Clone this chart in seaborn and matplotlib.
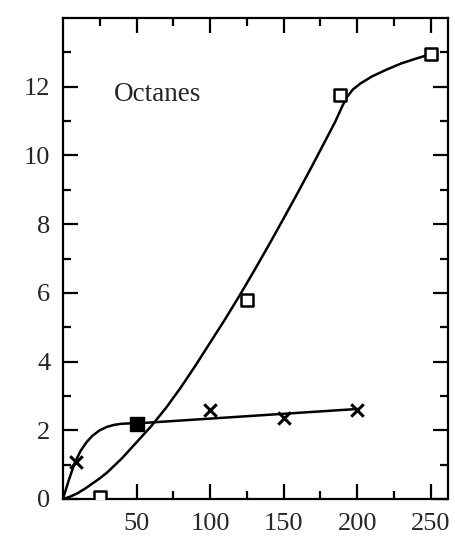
import matplotlib
matplotlib.use("Agg")
import matplotlib.pyplot as plt
import seaborn as sns
import pandas as pd
from matplotlib.ticker import FixedLocator

# ---- data ----
curve_a_x = [0, 5, 10, 15, 20, 25, 30, 40, 50, 60, 70, 80, 90, 100, 110, 120,
             130, 140, 150, 160, 170, 180, 185, 190, 193, 197, 202, 210, 220,
             230, 240, 250]
curve_a_y = [0, 0.07, 0.17, 0.30, 0.45, 0.60, 0.77, 1.18, 1.65, 2.12, 2.65,
             3.24, 3.88, 4.55, 5.22, 5.92, 6.65, 7.40, 8.17, 8.95, 9.75,
             10.57, 10.98, 11.45, 11.70, 11.92, 12.09, 12.30, 12.50, 12.68,
             12.82, 12.95]

curve_b_x = [0, 4, 8, 12, 16, 20, 25, 30, 35, 40, 45, 50, 200]
curve_b_y = [0, 0.55, 1.05, 1.40, 1.65, 1.84, 2.00, 2.10, 2.16, 2.19, 2.20,
             2.20, 2.62]

open_sq_x = [25, 125, 188, 250]
open_sq_y = [0.05, 5.8, 11.76, 12.95]

filled_sq_x = [50]
filled_sq_y = [2.18]

cross_x = [9, 100, 150, 200]
cross_y = [1.07, 2.6, 2.35, 2.6]

x_major = [50, 100, 150, 200, 250]
x_minor = [25, 75, 125, 175, 225]
y_major = [0, 2, 4, 6, 8, 10, 12]
y_minor = [1, 3, 5, 7, 9, 11, 13]
label_text = "Octanes"

# ---- style ----
sns.set_style("ticks")
plt.rcParams["font.family"] = ["Liberation Serif", "DejaVu Serif"]

fig = plt.figure(figsize=(4.56, 5.38), dpi=100)
ax = fig.add_axes([0.138, 0.0725, 0.844, 0.894])

df_a = pd.DataFrame({"x": curve_a_x, "y": curve_a_y})
df_b = pd.DataFrame({"x": curve_b_x, "y": curve_b_y})
sns.lineplot(data=df_a, x="x", y="y", sort=False, color="black", lw=1.8, ax=ax)
sns.lineplot(data=df_b, x="x", y="y", sort=False, color="black", lw=1.8, ax=ax)

sns.scatterplot(x=open_sq_x, y=open_sq_y, marker="s", s=78, facecolor="white",
                edgecolor="black", linewidth=1.8, ax=ax, zorder=3)
sns.scatterplot(x=filled_sq_x, y=filled_sq_y, marker="s", s=95, color="black",
                edgecolor="black", linewidth=1.0, ax=ax, zorder=3)
sns.scatterplot(x=cross_x, y=cross_y, marker="x", s=80, color="black",
                linewidth=2.2, ax=ax, zorder=3)

ax.text(34.5, 11.78, label_text, fontsize=19.5, va="center", ha="left")

ax.set_xlim(0, 261.5)
ax.set_ylim(0, 14)
ax.xaxis.set_major_locator(FixedLocator(x_major))
ax.xaxis.set_minor_locator(FixedLocator(x_minor))
ax.yaxis.set_major_locator(FixedLocator(y_major))
ax.yaxis.set_minor_locator(FixedLocator(y_minor))
ax.set_xticklabels([str(v) for v in x_major])
ax.set_yticklabels([str(v) for v in y_major])
ax.set_xlabel("")
ax.set_ylabel("")

ax.tick_params(which="both", direction="in", top=True, right=True,
               color="black", width=1.6)
ax.tick_params(which="major", length=11, labelsize=19)
ax.tick_params(which="minor", length=5.5)
ax.tick_params(axis="x", which="major", pad=10)
ax.tick_params(axis="y", which="major", pad=9)
for sp in ax.spines.values():
    sp.set_visible(True)
    sp.set_linewidth(1.6)
    sp.set_color("black")

fig.savefig("out.png", dpi=100)
